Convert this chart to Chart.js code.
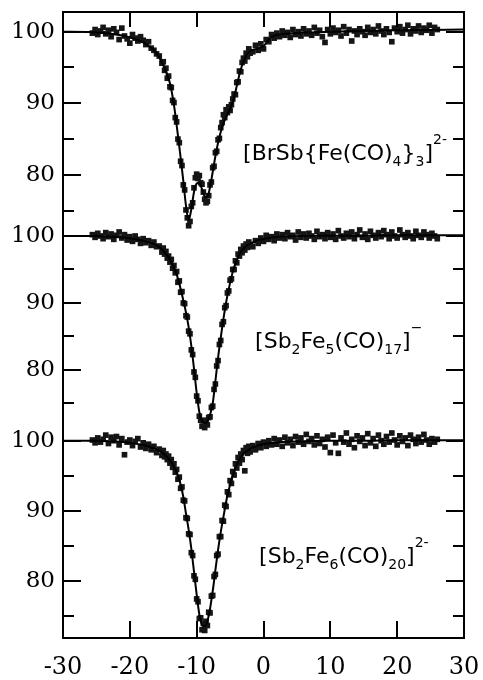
<!DOCTYPE html>
<html>
<head>
<meta charset="utf-8">
<title>Mössbauer spectra</title>
<script src="https://cdn.jsdelivr.net/npm/chart.js@4.4.1/dist/chart.umd.min.js"></script>
<style>
  html, body { margin: 0; padding: 0; background: #fff; }
  #wrap { position: relative; width: 483px; height: 680px; }
</style>
</head>
<body>
<div id="wrap"><canvas id="spectra"></canvas></div>
<script>
// Three stacked Mössbauer spectra (transmission % vs velocity mm/s),
// measured points as small squares plus the fitted curve.

// velocity of each measured channel (mm/s), shared by the three spectra
const velocity = [
  -25.6, -25.2, -24.8, -24.4, -24.0, -23.6, -23.2, -22.8, -22.4, -22.0,
  -21.6, -21.2, -20.8, -20.4, -20.0, -19.6, -19.2, -18.8, -18.4, -18.0,
  -17.6, -17.2, -16.8, -16.4, -16.0, -15.6, -15.2,
  -15.0, -14.8, -14.6, -14.4, -14.2, -14.0, -13.8, -13.6, -13.4, -13.2,
  -13.0, -12.8, -12.6, -12.4, -12.2, -12.0, -11.8, -11.6, -11.4, -11.2,
  -11.0, -10.8, -10.6, -10.4, -10.2, -10.0, -9.8, -9.6, -9.4, -9.2,
  -9.0, -8.8, -8.6, -8.4, -8.2, -8.0, -7.8, -7.6, -7.4, -7.2,
  -7.0, -6.8, -6.6, -6.4, -6.2, -6.0, -5.8, -5.6, -5.4, -5.2,
  -5.0, -4.8, -4.6, -4.4, -4.2, -4.0, -3.8, -3.6, -3.4, -3.2,
  -3.0, -2.8, -2.6, -2.4, -2.2, -2.0,
  -1.6, -1.2, -0.8, -0.4, 0.0, 0.4, 0.8, 1.2, 1.6, 2.0,
  2.4, 2.8, 3.2, 3.6, 4.0, 4.4, 4.8, 5.2, 5.6, 6.0,
  6.4, 6.8, 7.2, 7.6, 8.0, 8.4, 8.8, 9.2, 9.6, 10.0,
  10.4, 10.8, 11.2, 11.6, 12.0, 12.4, 12.8, 13.2, 13.6, 14.0,
  14.4, 14.8, 15.2, 15.6, 16.0, 16.4, 16.8, 17.2, 17.6, 18.0,
  18.4, 18.8, 19.2, 19.6, 20.0, 20.4, 20.8, 21.2, 21.6, 22.0,
  22.4, 22.8, 23.2, 23.6, 24.0, 24.4, 24.8, 25.2, 25.6, 26.0,
];

// [BrSb{Fe(CO)4}3]2-
const transBrSb = [
  99.8, 100.3, 99.6, 100.1, 100.6, 99.7, 100.2, 99.3, 100.4, 99.9,
  98.9, 100.5, 99.4, 99.0, 98.4, 99.6, 99.1, 98.7, 99.3, 98.8,
  98.2, 98.6, 97.7, 97.4, 96.9, 96.6, 95.6,
  95.8, 94.6, 94.9, 93.5, 93.8, 92.3, 92.2, 90.4, 90.1, 88.0,
  87.4, 85.0, 84.5, 81.9, 81.3, 78.6, 77.9, 75.1, 74.0, 72.9,
  73.5, 75.6, 76.1, 78.2, 79.6, 80.1, 79.5, 79.9, 78.9, 78.7,
  77.6, 76.6, 76.1, 76.3, 77.1, 78.6, 79.0, 81.0, 81.2, 83.1,
  83.3, 84.9, 85.1, 86.6, 87.3, 88.4, 88.0, 89.1, 88.7, 89.5,
  89.0, 89.8, 90.6, 91.3, 91.2, 92.9, 93.0, 94.5, 94.4, 95.7,
  96.3, 95.9, 97.0, 96.5, 97.6, 97.0,
  97.2, 98.1, 97.4, 98.3, 97.6, 98.9, 98.6, 99.6, 99.1, 99.8,
  99.3, 100.1, 99.5, 99.9, 99.2, 100.3, 99.6, 100.0, 99.4, 100.4,
  99.7, 100.1, 99.5, 100.6, 99.8, 100.2, 99.3, 98.5, 100.3, 99.7,
  100.5, 99.9, 100.2, 99.4, 100.7, 99.8, 100.3, 98.7, 100.1, 99.6,
  100.4, 100.0, 99.5, 100.6, 99.9, 100.3, 99.7, 100.8, 100.1, 99.6,
  100.4, 99.9, 98.6, 100.5, 100.0, 100.7, 99.8, 100.3, 100.9, 99.7,
  100.4, 100.1, 100.8, 99.9, 100.5, 100.2, 100.9, 99.8, 100.6, 100.3,
];

// [Sb2Fe5(CO)17]-
const transSb2Fe5 = [
  100.2, 99.8, 100.4, 100.0, 99.6, 100.5, 99.9, 100.3, 99.5, 100.1,
  100.6, 99.7, 100.2, 99.4, 99.9, 99.2, 100.0, 99.5, 98.9, 99.6,
  99.0, 99.3, 98.6, 99.1, 98.4, 98.5, 97.6,
  98.2, 97.3, 97.7, 96.7, 97.0, 96.1, 96.5, 95.2, 95.6, 94.5,
  94.7, 93.1, 93.3, 91.6, 91.7, 90.0, 89.9, 88.1, 87.9, 85.8,
  85.4, 83.0, 82.3, 79.7, 78.9, 76.1, 75.4, 73.1, 72.5, 71.6,
  72.4, 71.4, 72.5, 71.8, 72.9, 73.0, 74.4, 74.6, 77.1, 77.9,
  80.6, 81.4, 83.8, 84.4, 86.8, 87.2, 89.3, 89.6, 91.5, 91.8,
  93.4, 93.6, 95.0, 95.0, 96.3, 96.0, 97.3, 97.0, 98.0, 97.5,
  98.5, 97.9, 98.8, 98.3, 99.1, 98.6,
  98.4, 99.3, 98.9, 99.7, 99.2, 100.1, 99.5, 99.9, 99.3, 100.3,
  99.7, 100.2, 99.6, 100.5, 99.9, 100.1, 99.4, 100.6, 99.8, 100.3,
  99.7, 100.4, 100.0, 99.5, 100.7, 99.9, 100.2, 99.6, 100.5, 99.8,
  100.3, 99.5, 100.8, 100.0, 99.7, 100.4, 99.9, 100.6, 99.6, 100.2,
  100.9, 99.8, 100.3, 99.5, 100.7, 100.1, 99.7, 100.5, 99.9, 100.8,
  100.2, 99.6, 100.6, 100.0, 99.7, 100.9, 100.2, 99.8, 100.5, 100.0,
  99.6, 100.7, 100.1, 99.8, 100.6, 100.2, 99.7, 100.4, 100.0, 99.6,
];

// [Sb2Fe6(CO)20]2-
const transSb2Fe6 = [
  100.1, 99.7, 100.4, 99.8, 100.2, 100.8, 99.6, 100.5, 100.0, 100.6,
  99.4, 100.3, 98.0, 99.8, 100.1, 99.3, 99.9, 100.3, 99.1, 99.7,
  98.9, 99.5, 98.7, 99.2, 98.3, 98.8, 97.9,
  98.6, 97.7, 98.1, 97.3, 97.8, 96.8, 97.3, 96.2, 96.7, 95.5,
  95.9, 94.5, 94.8, 93.2, 93.4, 91.5, 91.4, 89.0, 88.9, 86.7,
  86.6, 84.0, 83.6, 80.7, 80.2, 77.4, 77.0, 74.6, 74.7, 73.0,
  73.9, 72.9, 74.2, 73.6, 75.5, 75.4, 77.8, 77.9, 80.6, 80.9,
  83.6, 83.8, 86.3, 86.3, 88.6, 88.5, 90.8, 90.6, 92.7, 92.3,
  94.3, 93.9, 95.6, 95.1, 96.7, 96.1, 97.6, 96.8, 98.1, 97.3,
  98.6, 95.7, 99.0, 98.2, 99.2, 98.4,
  99.3, 98.7, 99.6, 99.0, 99.8, 99.2, 100.0, 99.4, 100.3, 99.5,
  100.1, 99.2, 100.5, 99.7, 100.2, 99.3, 100.6, 99.8, 100.4, 99.5,
  100.9, 99.9, 100.3, 99.4, 100.7, 99.6, 100.2, 99.1, 100.5, 98.3,
  100.8, 99.7, 98.2, 100.4, 99.8, 101.1, 99.5, 100.2, 99.0, 100.7,
  99.9, 100.4, 99.3, 101.0, 99.7, 100.3, 99.2, 100.8, 100.0, 99.5,
  100.6, 99.8, 101.1, 100.1, 99.4, 100.7, 99.9, 100.4, 99.3, 100.8,
  100.2, 99.6, 100.5, 99.8, 100.9, 100.1, 99.5, 100.3, 99.8, 100.2,
];

// fitted curves, read at these velocities
const fitVelocity = [
  -30, -26, -22, -20, -18, -16, -15, -14.5, -14, -13.5, -13, -12.5, -12,
  -11.6, -11.2, -10.8, -10.4, -10.0, -9.6, -9.2, -8.8, -8.4, -8.0, -7.6, -7.2, -6.8, -6.4, -6.0,
  -5.5, -5.0, -4.5, -4.0, -3.5, -3.0, -2.5, -2.0,
  -1, 0, 1, 2, 4, 7, 10, 15, 20, 25, 30,
];
const fitBrSb = [
  100.0, 99.95, 99.6, 99.2, 98.5, 97.0, 95.3, 94.2, 92.8, 90.4, 87.0, 83.2, 79.2,
  75.7, 73.7, 75.2, 77.6, 78.8, 78.9, 78.0, 77.0, 76.9, 78.3, 80.4, 82.6, 84.5, 86.0, 87.2,
  88.3, 89.2, 90.5, 92.4, 94.4, 95.8, 96.8, 97.3,
  97.6, 98.0, 99.1, 99.55, 99.75, 99.9, 100.0, 100.1, 100.2, 100.25, 100.3,
];
const fitSb2Fe5 = [
  100.0, 100.0, 99.85, 99.65, 99.3, 98.6, 97.8, 97.2, 96.5, 95.5, 94.3, 92.5, 90.4,
  88.6, 86.4, 83.6, 80.2, 76.6, 73.7, 72.4, 72.05, 72.3, 73.3, 75.0, 78.3, 81.8, 84.8, 87.6,
  90.6, 93.0, 95.0, 96.4, 97.45, 98.1, 98.55, 98.85,
  99.3, 99.55, 99.75, 99.85, 99.95, 100.0, 100.05, 100.05, 100.1, 100.1, 100.1,
];
const fitSb2Fe6 = [
  100.0, 100.0, 99.9, 99.7, 99.4, 98.75, 98.2, 97.7, 97.2, 96.5, 95.5, 94.1, 92.0,
  89.6, 87.3, 84.6, 81.3, 78.0, 75.2, 73.7, 73.45, 74.2, 76.0, 78.5, 81.5, 84.4, 86.9, 89.1,
  91.7, 93.7, 95.3, 96.6, 97.45, 98.1, 98.5, 98.85,
  99.25, 99.5, 99.65, 99.75, 99.85, 99.95, 100.0, 100.0, 100.05, 100.05, 100.05,
];

const yLabelled = [80, 90, 100];

// compound names: [text, -1 subscript / 0 normal / 1 superscript]
const formulas = [
  [["[BrSb{Fe(CO)", 0], ["4", -1], ["}", 0], ["3", -1], ["]", 0], ["2-", 1]],
  [["[Sb", 0], ["2", -1], ["Fe", 0], ["5", -1], ["(CO)", 0], ["17", -1], ["]", 0], ["\u2212", 1]],
  [["[Sb", 0], ["2", -1], ["Fe", 0], ["6", -1], ["(CO)", 0], ["20", -1], ["]", 0], ["2-", 1]],
];

const pts = (ys) => velocity.map((v, i) => ({ x: v, y: ys[i] }));
const fitPts = (ys) => fitVelocity.map((v, i) => ({ x: v, y: ys[i] }));

// inner tick marks, frame and the compound names
const axisDecor = {
  id: "axisDecor",
  afterDatasetsDraw(chart, args, opts) {
    const { ctx, chartArea: a, scales } = chart;
    ctx.save();
    ctx.strokeStyle = "#000";
    ctx.lineWidth = 2;
    ctx.beginPath();
    ["y1", "y2", "y3"].forEach((id) => {
      const s = scales[id];
      s.ticks.forEach((t) => {
        const py = Math.round(s.getPixelForValue(t.value));
        const len = t.value % 10 === 0 ? opts.major : opts.minor;
        ctx.moveTo(a.left, py); ctx.lineTo(a.left + len, py);
        ctx.moveTo(a.right, py); ctx.lineTo(a.right - len, py);
      });
    });
    const sx = scales.x;
    sx.ticks.forEach((t) => {
      if (t.value <= sx.min || t.value >= sx.max) return;
      const px = Math.round(sx.getPixelForValue(t.value));
      ctx.moveTo(px, a.bottom); ctx.lineTo(px, a.bottom - opts.xBottom);
      ctx.moveTo(px, a.top); ctx.lineTo(px, a.top + opts.xTop);
    });
    ctx.stroke();
    ctx.strokeRect(a.left, a.top, a.right - a.left, a.bottom - a.top);

    ctx.fillStyle = "#000";
    ctx.textBaseline = "alphabetic";
    opts.names.forEach((n, k) => {
      let x = sx.getPixelForValue(n.x);
      const y = scales[n.axis].getPixelForValue(n.y);
      formulas[k].forEach(([text, shift]) => {
        ctx.font = shift ? opts.smallFont : opts.bigFont;
        ctx.fillText(text, x, y + (shift < 0 ? opts.subDy : shift > 0 ? opts.supDy : 0));
        x += ctx.measureText(text).width;
      });
    });
    ctx.restore();
  },
};

function yScale(min, max, weight) {
  return {
    type: "linear",
    position: "left",
    stack: "spectra",
    stackWeight: weight,
    min,
    max,
    grid: { display: false, drawTicks: false },
    border: { display: false },
    ticks: {
      stepSize: 5,
      includeBounds: false,
      autoSkip: false,
      padding: 8,
      color: "#000",
      font: { family: "DejaVu Serif", size: 23 },
      callback: (v) => (yLabelled.includes(v) ? String(v) : ""),
    },
    afterFit: (s) => {
      s.width = 63;
      s.paddingTop = 0;
      s.paddingBottom = 0;
    },
  };
}

const spectrum = (ys, axis) => ({
  data: pts(ys), yAxisID: axis, pointStyle: "rect", pointRadius: 4,
  pointBorderWidth: 0, backgroundColor: "#151515", borderColor: "#151515",
  showLine: false, clip: false,
});
const fit = (ys, axis) => ({
  data: fitPts(ys), yAxisID: axis, showLine: true, pointRadius: 0,
  borderColor: "#000", borderWidth: 2, cubicInterpolationMode: "monotone",
  fill: false, clip: false,
});

new Chart(document.getElementById("spectra"), {
  type: "scatter",
  data: {
    datasets: [
      fit(fitBrSb, "y1"), fit(fitSb2Fe5, "y2"), fit(fitSb2Fe6, "y3"),
      spectrum(transBrSb, "y1"), spectrum(transSb2Fe5, "y2"), spectrum(transSb2Fe6, "y3"),
    ],
  },
  options: {
    responsive: true,
    maintainAspectRatio: false,
    animation: false,
    events: [],
    layout: { padding: { top: 12, right: 19, left: 0, bottom: 0 } },
    plugins: {
      legend: { display: false },
      tooltip: { enabled: false },
      axisDecor: {
        major: 18, minor: 11, xBottom: 17, xTop: 15,
        bigFont: '22px "DejaVu Sans"', smallFont: '14px "DejaVu Sans"',
        subDy: 6, supDy: -16,
        names: [
          { axis: "y1", x: -3.05, y: 82.1 },
          { axis: "y2", x: -1.26, y: 83.3 },
          { axis: "y3", x: -0.66, y: 82.5 },
        ],
      },
    },
    scales: {
      x: {
        type: "linear",
        position: "bottom",
        min: -30,
        max: 30,
        grid: { display: false, drawTicks: false },
        border: { display: false },
        ticks: {
          stepSize: 10,
          autoSkip: false,
          maxRotation: 0,
          padding: 15,
          color: "#000",
          font: { family: "DejaVu Serif", size: 24 },
        },
        afterFit: (s) => {
          s.height = 42;
          s.paddingLeft = 0;
          s.paddingRight = 0;
        },
      },
      // stacked bottom to top
      y3: yScale(71.82, 101.53, 208),
      y2: yScale(71.04, 101.79, 206),
      y1: yScale(73.14, 102.75, 212),
    },
  },
  plugins: [axisDecor],
});
</script>
</body>
</html>
